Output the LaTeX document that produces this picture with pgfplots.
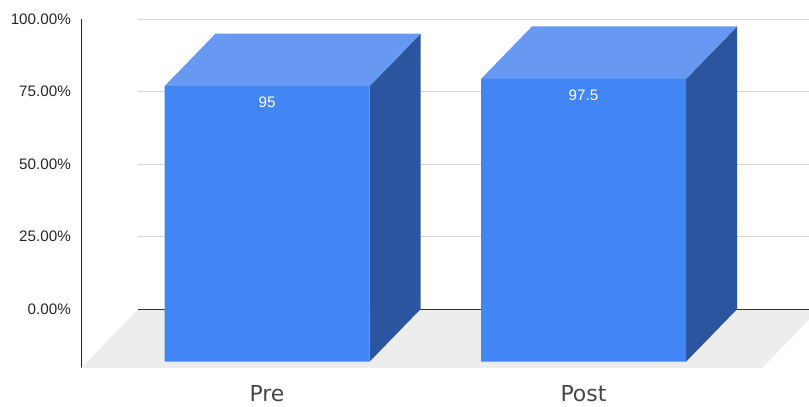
\documentclass[border=0pt]{standalone}
\usepackage{fontspec}
\setmainfont{Liberation Sans}
\newfontfamily\catfont{DejaVu Sans}
\usepackage{pgfplots}
\pgfplotsset{compat=1.18}
\definecolor{barfront}{HTML}{4285F4}
\definecolor{bartop}{HTML}{6899F2}
\definecolor{barside}{HTML}{2B559F}
\definecolor{floorgray}{HTML}{EDEDED}
\definecolor{gridgray}{HTML}{D6D6D6}
\begin{document}
\begin{tikzpicture}[x=1pt,y=1pt]
\path[use as bounding box] (0,0) rectangle (809,407);
\begin{axis}[
  at={(81pt,38.8pt)}, anchor=south west,
  scale only axis, width=728pt, height=349pt,
  xmin=-0.7488, xmax=1.5513, ymin=-20.34, ymax=100,
  axis y line=left, axis x line=none,
  axis line style={-, black!85, line width=1pt},
  y axis line style={-},
  major tick length=0pt,
  ytick={0,25,50,75,100},
  yticklabels={0.00\%,25.00\%,50.00\%,75.00\%,100.00\%},
  yticklabel style={font=\fontsize{15.2}{18}\selectfont, text=black!85, inner sep=0pt, xshift=-10pt},
  clip=true,
]
% Back wall gridlines
\addplot[gridgray, line width=1pt, forget plot] coordinates {(-0.5687,25) (1.5513,25)};
\addplot[gridgray, line width=1pt, forget plot] coordinates {(-0.5687,50) (1.5513,50)};
\addplot[gridgray, line width=1pt, forget plot] coordinates {(-0.5687,75) (1.5513,75)};
\addplot[gridgray, line width=1pt, forget plot] coordinates {(-0.5687,100) (1.5513,100)};
% Floor of the box
\addplot[fill=floorgray, draw=none, forget plot] coordinates {(-0.7488,-20.34) (-0.5687,0) (1.5829,0) (1.4028,-20.34)} -- cycle;
\addplot[black!80, line width=1pt, forget plot] coordinates {(-0.5687,0) (1.5513,0)};
% Right side faces of the bars
\addplot[fill=barside, draw=none, forget plot] coordinates {(0.3239,0) (0.3239,95) (0.1628,76.9) (0.1628,-18.1)} -- cycle;
\addplot[fill=barside, draw=none, forget plot] coordinates {(1.3239,0) (1.3239,97.5) (1.1628,79.4) (1.1628,-18.1)} -- cycle;
% Top faces of the bars
\addplot[fill=bartop, draw=none, forget plot] coordinates {(-0.3239,95) (0.3239,95) (0.1628,76.9) (-0.4850,76.9)} -- cycle;
\addplot[fill=bartop, draw=none, forget plot] coordinates {(0.6761,97.5) (1.3239,97.5) (1.1628,79.4) (0.5150,79.4)} -- cycle;
% Front faces, projected forward from the back plane
\addplot[ybar, bar width=205pt, bar shift=0pt, fill=barfront, draw=none,
  xshift=-51pt, yshift=-52.5pt,
  nodes near coords, point meta=explicit symbolic,
  every node near coord/.append style={font=\fontsize{15.2}{18}\selectfont, text=white, anchor=center, yshift=-16pt}]
  coordinates {(0,95)[95] (1,97.5)[97.5]};
\end{axis}
% Category labels below the floor
\begin{axis}[
  at={(81pt,38.8pt)}, anchor=south west,
  scale only axis, width=728pt, height=349pt,
  xmin=-0.7488, xmax=1.5513, ymin=-20.34, ymax=100,
  axis y line=none, axis x line=bottom,
  x axis line style={draw=none},
  major tick length=0pt,
  xtick={0,1}, xticklabels={Pre,Post},
  xticklabel style={font=\catfont\fontsize{22}{26}\selectfont, text=black!72, anchor=base, xshift=-51pt, yshift=-33.5pt, inner sep=0pt},
]
\addplot[draw=none, forget plot] coordinates {(0,0) (1,0)};
\end{axis}
\end{tikzpicture}
\end{document}
